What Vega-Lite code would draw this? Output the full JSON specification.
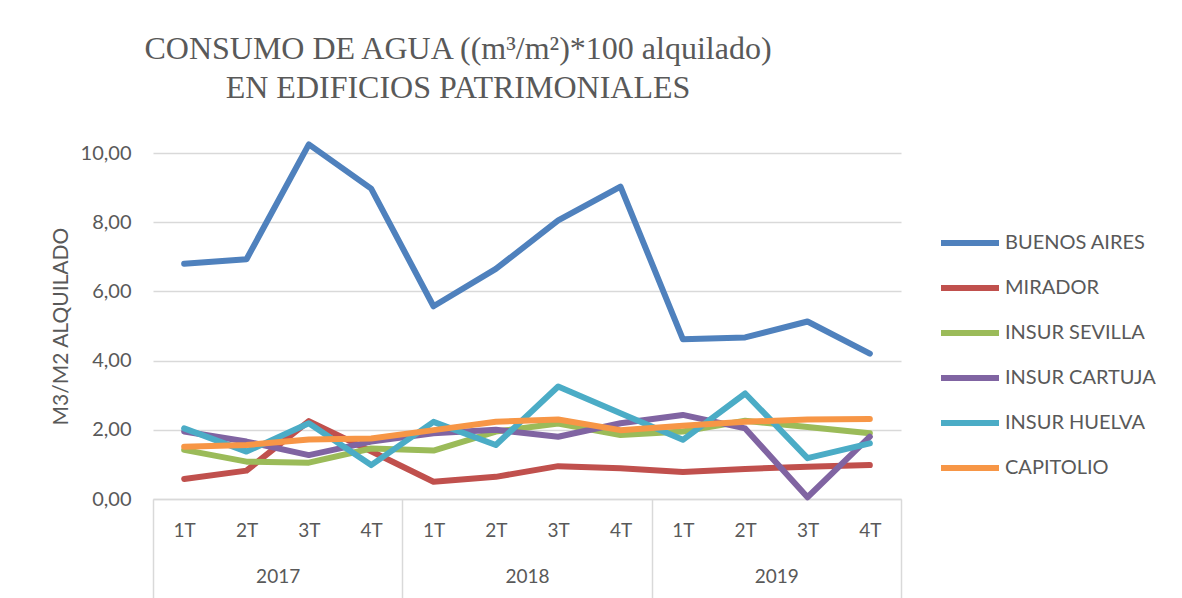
{
  "$schema": "https://vega.github.io/schema/vega-lite/v6.json",
  "width": 748,
  "height": 346,
  "autosize": "none",
  "padding": {"left": 153, "top": 153, "right": 281, "bottom": 99},
  "background": "white",
  "title": {
    "text": ["CONSUMO DE AGUA ((m³/m²)*100 alquilado)", "EN EDIFICIOS PATRIMONIALES"],
    "font": "Liberation Serif",
    "fontSize": 32,
    "fontWeight": "normal",
    "color": "#595959",
    "anchor": "middle",
    "frame": "group",
    "dx": -69,
    "lineHeight": 39,
    "offset": 36
  },
  "config": {
    "view": {"stroke": null},
    "font": "Lato"
  },
  "layer": [
    {
      "data": {
        "values": [
          {"periodo": "2017-1T", "serie": "BUENOS AIRES", "valor": 6.80},
          {"periodo": "2017-2T", "serie": "BUENOS AIRES", "valor": 6.93},
          {"periodo": "2017-3T", "serie": "BUENOS AIRES", "valor": 10.25},
          {"periodo": "2017-4T", "serie": "BUENOS AIRES", "valor": 8.97},
          {"periodo": "2018-1T", "serie": "BUENOS AIRES", "valor": 5.57},
          {"periodo": "2018-2T", "serie": "BUENOS AIRES", "valor": 6.65},
          {"periodo": "2018-3T", "serie": "BUENOS AIRES", "valor": 8.05},
          {"periodo": "2018-4T", "serie": "BUENOS AIRES", "valor": 9.03},
          {"periodo": "2019-1T", "serie": "BUENOS AIRES", "valor": 4.62},
          {"periodo": "2019-2T", "serie": "BUENOS AIRES", "valor": 4.67},
          {"periodo": "2019-3T", "serie": "BUENOS AIRES", "valor": 5.13},
          {"periodo": "2019-4T", "serie": "BUENOS AIRES", "valor": 4.20},
          {"periodo": "2017-1T", "serie": "MIRADOR", "valor": 0.58},
          {"periodo": "2017-2T", "serie": "MIRADOR", "valor": 0.82},
          {"periodo": "2017-3T", "serie": "MIRADOR", "valor": 2.25},
          {"periodo": "2017-4T", "serie": "MIRADOR", "valor": 1.38},
          {"periodo": "2018-1T", "serie": "MIRADOR", "valor": 0.50},
          {"periodo": "2018-2T", "serie": "MIRADOR", "valor": 0.64},
          {"periodo": "2018-3T", "serie": "MIRADOR", "valor": 0.95},
          {"periodo": "2018-4T", "serie": "MIRADOR", "valor": 0.89},
          {"periodo": "2019-1T", "serie": "MIRADOR", "valor": 0.78},
          {"periodo": "2019-2T", "serie": "MIRADOR", "valor": 0.87},
          {"periodo": "2019-3T", "serie": "MIRADOR", "valor": 0.93},
          {"periodo": "2019-4T", "serie": "MIRADOR", "valor": 0.98},
          {"periodo": "2017-1T", "serie": "INSUR SEVILLA", "valor": 1.42},
          {"periodo": "2017-2T", "serie": "INSUR SEVILLA", "valor": 1.08},
          {"periodo": "2017-3T", "serie": "INSUR SEVILLA", "valor": 1.05},
          {"periodo": "2017-4T", "serie": "INSUR SEVILLA", "valor": 1.46},
          {"periodo": "2018-1T", "serie": "INSUR SEVILLA", "valor": 1.40},
          {"periodo": "2018-2T", "serie": "INSUR SEVILLA", "valor": 1.95},
          {"periodo": "2018-3T", "serie": "INSUR SEVILLA", "valor": 2.18},
          {"periodo": "2018-4T", "serie": "INSUR SEVILLA", "valor": 1.85},
          {"periodo": "2019-1T", "serie": "INSUR SEVILLA", "valor": 1.95},
          {"periodo": "2019-2T", "serie": "INSUR SEVILLA", "valor": 2.26},
          {"periodo": "2019-3T", "serie": "INSUR SEVILLA", "valor": 2.08},
          {"periodo": "2019-4T", "serie": "INSUR SEVILLA", "valor": 1.90},
          {"periodo": "2017-1T", "serie": "INSUR CARTUJA", "valor": 1.95},
          {"periodo": "2017-2T", "serie": "INSUR CARTUJA", "valor": 1.66},
          {"periodo": "2017-3T", "serie": "INSUR CARTUJA", "valor": 1.27},
          {"periodo": "2017-4T", "serie": "INSUR CARTUJA", "valor": 1.66},
          {"periodo": "2018-1T", "serie": "INSUR CARTUJA", "valor": 1.90},
          {"periodo": "2018-2T", "serie": "INSUR CARTUJA", "valor": 2.00},
          {"periodo": "2018-3T", "serie": "INSUR CARTUJA", "valor": 1.80},
          {"periodo": "2018-4T", "serie": "INSUR CARTUJA", "valor": 2.19},
          {"periodo": "2019-1T", "serie": "INSUR CARTUJA", "valor": 2.43},
          {"periodo": "2019-2T", "serie": "INSUR CARTUJA", "valor": 2.04},
          {"periodo": "2019-3T", "serie": "INSUR CARTUJA", "valor": 0.05},
          {"periodo": "2019-4T", "serie": "INSUR CARTUJA", "valor": 1.80},
          {"periodo": "2017-1T", "serie": "INSUR HUELVA", "valor": 2.04},
          {"periodo": "2017-2T", "serie": "INSUR HUELVA", "valor": 1.37},
          {"periodo": "2017-3T", "serie": "INSUR HUELVA", "valor": 2.19},
          {"periodo": "2017-4T", "serie": "INSUR HUELVA", "valor": 0.98},
          {"periodo": "2018-1T", "serie": "INSUR HUELVA", "valor": 2.23},
          {"periodo": "2018-2T", "serie": "INSUR HUELVA", "valor": 1.56},
          {"periodo": "2018-3T", "serie": "INSUR HUELVA", "valor": 3.25},
          {"periodo": "2018-4T", "serie": "INSUR HUELVA", "valor": 2.48},
          {"periodo": "2019-1T", "serie": "INSUR HUELVA", "valor": 1.71},
          {"periodo": "2019-2T", "serie": "INSUR HUELVA", "valor": 3.05},
          {"periodo": "2019-3T", "serie": "INSUR HUELVA", "valor": 1.18},
          {"periodo": "2019-4T", "serie": "INSUR HUELVA", "valor": 1.61},
          {"periodo": "2017-1T", "serie": "CAPITOLIO", "valor": 1.51},
          {"periodo": "2017-2T", "serie": "CAPITOLIO", "valor": 1.56},
          {"periodo": "2017-3T", "serie": "CAPITOLIO", "valor": 1.72},
          {"periodo": "2017-4T", "serie": "CAPITOLIO", "valor": 1.75},
          {"periodo": "2018-1T", "serie": "CAPITOLIO", "valor": 1.99},
          {"periodo": "2018-2T", "serie": "CAPITOLIO", "valor": 2.23},
          {"periodo": "2018-3T", "serie": "CAPITOLIO", "valor": 2.30},
          {"periodo": "2018-4T", "serie": "CAPITOLIO", "valor": 1.99},
          {"periodo": "2019-1T", "serie": "CAPITOLIO", "valor": 2.12},
          {"periodo": "2019-2T", "serie": "CAPITOLIO", "valor": 2.23},
          {"periodo": "2019-3T", "serie": "CAPITOLIO", "valor": 2.30},
          {"periodo": "2019-4T", "serie": "CAPITOLIO", "valor": 2.31}
        ]
      },
      "mark": {"type": "line", "strokeWidth": 6, "strokeCap": "round", "strokeJoin": "round", "clip": false},
      "encoding": {
        "x": {
          "field": "periodo",
          "type": "ordinal",
          "sort": null,
          "scale": {"type": "point", "padding": 0.5},
          "axis": {
            "title": null,
            "orient": "bottom",
            "labelExpr": "slice(datum.label, 5)",
            "labelAngle": 0,
            "labelFont": "Lato",
            "labelFontSize": 19,
            "labelColor": "#595959",
            "labelPadding": 22,
            "ticks": false,
            "domain": true,
            "domainColor": "#d9d9d9",
            "domainWidth": 1.5,
            "grid": false
          }
        },
        "y": {
          "field": "valor",
          "type": "quantitative",
          "scale": {"domain": [0, 10], "nice": false},
          "axis": {
            "title": "M3/M2 ALQUILADO",
            "titleFont": "Lato",
            "titleFontSize": 21,
            "titleFontWeight": "normal",
            "titleColor": "#595959",
            "titlePadding": 9,
            "values": [0, 2, 4, 6, 8, 10],
            "labelExpr": "replace(format(datum.value, '.2f'), '.', ',')",
            "labelFont": "Lato",
            "labelFontSize": 20,
            "labelColor": "#595959",
            "labelPadding": 22,
            "ticks": false,
            "domain": false,
            "grid": true,
            "gridColor": "#d9d9d9",
            "gridWidth": 1.5
          }
        },
        "color": {
          "field": "serie",
          "type": "nominal",
          "sort": ["BUENOS AIRES", "MIRADOR", "INSUR SEVILLA", "INSUR CARTUJA", "INSUR HUELVA", "CAPITOLIO"],
          "scale": {
            "domain": ["BUENOS AIRES", "MIRADOR", "INSUR SEVILLA", "INSUR CARTUJA", "INSUR HUELVA", "CAPITOLIO"],
            "range": ["#4f81bd", "#c0504d", "#9bbb59", "#8064a2", "#4bacc6", "#f79646"]
          },
          "legend": {
            "title": null,
            "orient": "none",
            "legendX": 785,
            "legendY": 58,
            "padding": 0,
            "symbolType": "stroke",
            "symbolSize": 3364,
            "symbolStrokeWidth": 6,
            "labelFont": "Lato",
            "labelFontSize": 20,
            "labelColor": "#595959",
            "labelOffset": 3,
            "rowPadding": 1
          }
        }
      }
    },
    {
      "data": {"values": [{"anio": "2017"}, {"anio": "2018"}, {"anio": "2019"}]},
      "mark": {"type": "point", "opacity": 0},
      "encoding": {
        "x": {
          "field": "anio",
          "type": "ordinal",
          "scale": {"type": "band", "paddingInner": 0, "paddingOuter": 0},
          "axis": {
            "title": null,
            "orient": "bottom",
            "labelAngle": 0,
            "labelFont": "Lato",
            "labelFontSize": 19,
            "labelColor": "#595959",
            "ticks": true,
            "tickBand": "extent",
            "tickSize": 99,
            "tickColor": "#d9d9d9",
            "tickWidth": 1.5,
            "labelPadding": -31,
            "domain": false,
            "grid": false
          }
        },
        "y": {"datum": 0}
      }
    }
  ],
  "resolve": {"scale": {"x": "independent"}, "axis": {"x": "independent"}}
}
